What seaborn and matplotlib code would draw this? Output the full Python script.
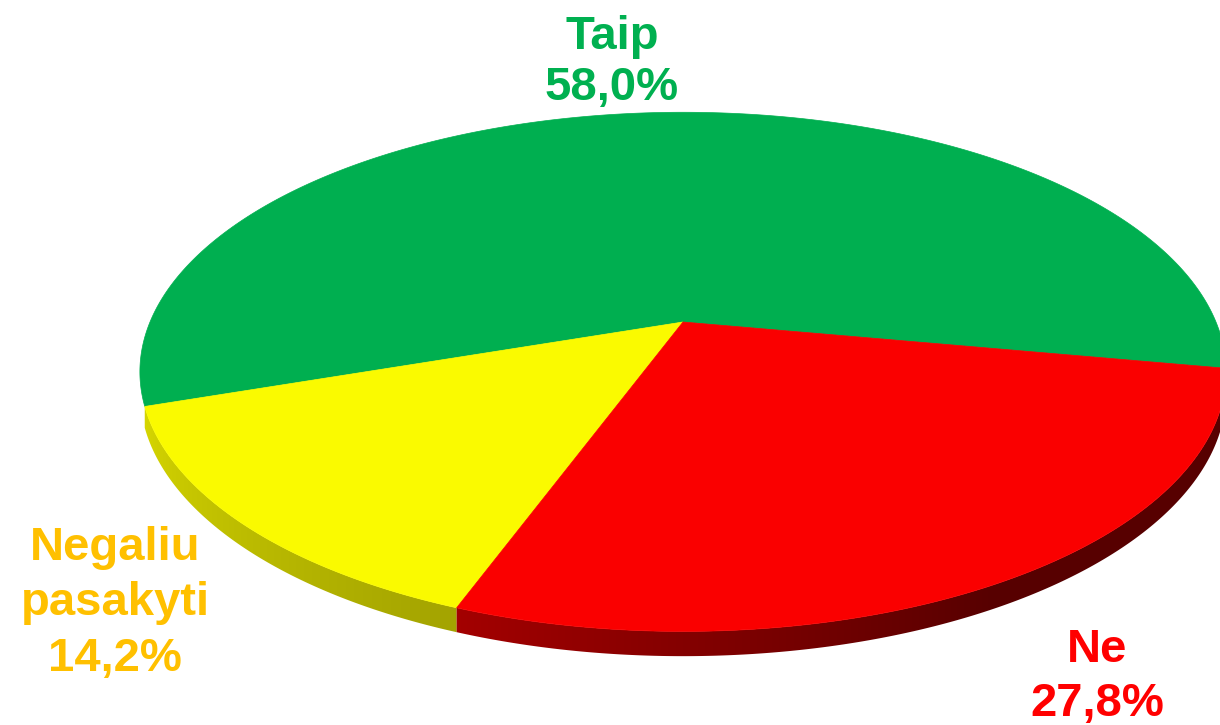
import numpy as np
import matplotlib
matplotlib.use("Agg")
import matplotlib.pyplot as plt
import seaborn as sns
from matplotlib.patches import Polygon
from matplotlib.colors import to_rgb

# ---- data ----
categories = ["Taip", "Negaliu pasakyti", "Ne"]
values = [58.0, 14.2, 27.8]
label_lines = [["Taip", "58,0%"], ["Negaliu", "pasakyti", "14,2%"], ["Ne", "27,8%"]]
top_colors = ["#00AF50", "#FAFA00", "#FA0000"]
label_colors = ["#00B050", "#FFC000", "#FF0000"]

# ---- style ----
sns.set_theme(style="white")
plt.rcParams['font.family'] = ['Liberation Sans', 'DejaVu Sans']

W, H = 1220, 725
fig = plt.figure(figsize=(W / 100, H / 100), dpi=100)
ax = fig.add_axes([0, 0, 1, 1])
ax.set_xlim(0, W)
ax.set_ylim(H, 0)
ax.axis('off')

# perspective pie geometry
CX, CY, A, B, K = 683, 322, 533, 250, 0.192
DEPTH = 20
START = -10.3


def project(phi):
    p = np.radians(phi)
    u = np.cos(p)
    v = -np.sin(p)
    s = 1.0 / (1.0 - K * v)
    return CX + A * u * s, CY + B * v * s, DEPTH * s


def shade(phi):
    phi = np.asarray(phi, dtype=float)
    f = np.where(phi < 250, 0.86 - (phi - 198) * 0.004,
                 0.652 - (phi - 250) * 0.0062)
    return np.clip(f, 0.35, 1.0)


fracs = np.array(values) / np.sum(values)
bounds = START + 360 * np.concatenate([[0], np.cumsum(fracs)])

vis_lo = bounds[1]
vis_hi = 360 - np.degrees(np.arcsin(K))

# column -> angle on the front rim
ph_s = np.linspace(vis_lo - 5, vis_hi, 3000)
xs_s, _, _ = project(ph_s)
cols_x = np.arange(W) + 0.5
phi_of_x = np.interp(cols_x, xs_s, ph_s)
f_x = shade(phi_of_x)

# sides
for i in range(len(values)):
    a0, a1 = bounds[i], bounds[i + 1]
    lo, hi = max(a0, vis_lo), min(a1, vis_hi)
    if hi <= lo:
        continue
    ph = np.linspace(lo, hi, 300)
    x, y, d = project(ph)
    pts = list(zip(x, y)) + list(zip(x[::-1], (y + d)[::-1]))
    clip = Polygon(pts, closed=True, transform=ax.transData,
                   facecolor='none', edgecolor='none')
    ax.add_patch(clip)
    base = np.array(to_rgb(top_colors[i]))
    row = f_x[:, None] * base[None, :]
    img = np.repeat(row[None, :, :], 4, axis=0)
    im = ax.imshow(img, extent=(0, W, H, 0), aspect='auto',
                   interpolation='bilinear', zorder=1)
    im.set_clip_path(clip)
    ax.add_patch(Polygon(pts, closed=True, facecolor='none',
                         edgecolor=tuple(base * 0.5), linewidth=0.0, zorder=1))

# top faces
for i in range(len(values)):
    a0, a1 = bounds[i], bounds[i + 1]
    ph = np.linspace(a0, a1, 400)
    x, y, _ = project(ph)
    pts = [(CX, CY)] + list(zip(x, y))
    ax.add_patch(Polygon(pts, closed=True, facecolor=top_colors[i],
                         edgecolor=top_colors[i], linewidth=0.5, zorder=2))

ax.set_xlim(0, W)
ax.set_ylim(H, 0)

# labels (baseline positions in pixels)
label_pos = [(612, [49, 100]), (115, [560, 615, 671]), (1097, [662, 716])]
for i, (xc, ys) in enumerate(label_pos):
    for line, yb in zip(label_lines[i], ys):
        ax.text(xc, yb, line, ha='center', va='baseline', fontsize=34,
                fontweight='bold', color=label_colors[i], zorder=3)

fig.savefig("out.png", dpi=100)
